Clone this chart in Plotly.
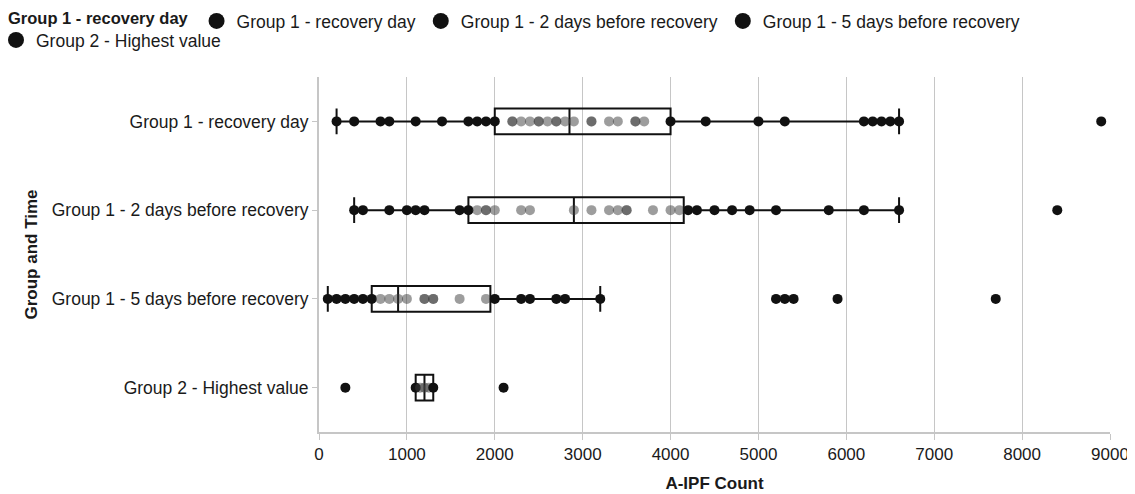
import plotly.graph_objects as go

categories = [
    "Group 1 - recovery day",
    "Group 1 - 2 days before recovery",
    "Group 1 - 5 days before recovery",
    "Group 2 - Highest value",
]

recovery_day = [200, 400, 700, 800, 1100, 1400, 1700, 1800, 1900, 2000, 2200, 2200, 2300, 2400,
                2500, 2500, 2600, 2700, 2700, 2800, 2900, 3100, 3100, 3300, 3400, 3600, 3600,
                3700, 4000, 4400, 5000, 5300, 6200, 6300, 6400, 6500, 6600, 8900]
two_days_before = [400, 500, 800, 1000, 1100, 1200, 1600, 1700, 1800, 1900, 1900, 2000, 2300, 2400,
                   2900, 3100, 3300, 3400, 3500, 3500, 3800, 4000, 4100, 4200, 4300, 4500, 4700,
                   4900, 5200, 5800, 6200, 6600, 8400]
five_days_before = [100, 200, 300, 400, 500, 600, 700, 800, 900, 1000, 1200, 1200, 1300, 1300, 1600,
                    1900, 2000, 2300, 2400, 2700, 2800, 3200, 5200, 5300, 5400, 5900, 7700]
group2_highest = [300, 1100, 1150, 1200, 1250, 1300, 2100]

series = [recovery_day, two_days_before, five_days_before, group2_highest]

# box statistics
q1 = [2000, 1700, 600, 1100]
median = [2850, 2900, 900, 1200]
q3 = [4000, 4150, 1950, 1300]
lower_fence = [200, 400, 100, 1100]
upper_fence = [6600, 6600, 3200, 1300]

x_ticks = [0, 1000, 2000, 3000, 4000, 5000, 6000, 7000, 8000, 9000]

FONT = "Liberation Sans"
TXT = "#1a1a1a"
DARK = "#111111"
INSIDE = "rgba(60,60,60,0.5)"
GRID = "#c6c6c6"

fig = go.Figure()

for i, (cat, vals) in enumerate(zip(categories, series)):
    colors = [INSIDE if q1[i] < v < q3[i] else DARK for v in vals]
    fig.add_trace(go.Scatter(
        x=vals, y=[cat] * len(vals), mode="markers",
        marker=dict(size=10, color=colors, line=dict(width=0)),
        showlegend=False, hoverinfo="x+y",
    ))

fig.add_trace(go.Box(
    y=categories, q1=q1, median=median, q3=q3,
    lowerfence=lower_fence, upperfence=upper_fence,
    orientation="h", boxpoints=False,
    fillcolor="rgba(0,0,0,0)", line=dict(color=DARK, width=2),
    whiskerwidth=1, width=0.29, showlegend=False,
))

# legend entries
for i, cat in enumerate(categories):
    fig.add_trace(go.Scatter(
        x=[None], y=[None], mode="markers", name=cat,
        marker=dict(size=16, color=DARK),
        legend="legend2" if i == 3 else "legend",
    ))

# page has an 8px body margin: figure is drawn from (8, 8)
W, H = 1127, 486
ML, MR, MT, MB = 311, 25, 69, 62
pw = W - ML - MR
ph = H - MT - MB

fig.update_layout(
    width=W, height=H,
    margin=dict(l=ML, r=MR, t=MT, b=MB, autoexpand=False),
    paper_bgcolor="white", plot_bgcolor="white",
    font=dict(family=FONT, size=17, color=TXT),
    legend=dict(
        orientation="h", x=(-2 - ML) / pw, xanchor="left",
        y=1 + (MT + 5) / ph, yanchor="top",
        title=dict(text="<b>Group 1 - recovery day</b>", side="left",
                   font=dict(family=FONT, size=16.5, color=TXT)),
        font=dict(family=FONT, size=17.5, color=TXT),
        itemwidth=30, tracegroupgap=0, bgcolor="rgba(0,0,0,0)",
    ),
    legend2=dict(
        orientation="h", x=(-12 - ML) / pw, xanchor="left",
        y=1 + (MT - 14) / ph, yanchor="top",
        font=dict(family=FONT, size=17.5, color=TXT),
        itemwidth=30, bgcolor="rgba(0,0,0,0)",
    ),
    xaxis=dict(
        range=[0, 9000], tickvals=x_ticks, ticktext=[str(t) for t in x_ticks],
        showgrid=True, gridcolor=GRID, gridwidth=1,
        showline=True, linecolor=GRID, linewidth=2,
        ticks="outside", ticklen=6, tickcolor=GRID,
        zeroline=False, automargin=False,
        tickfont=dict(family=FONT, size=17, color=TXT),
        title=dict(text="<b>A-IPF Count</b>", font=dict(family=FONT, size=17, color=TXT), standoff=14),
    ),
    yaxis=dict(
        type="category", categoryorder="array", categoryarray=categories,
        range=[3.5, -0.5], automargin=False,
        showgrid=False, showline=True, linecolor=GRID, linewidth=2,
        ticks="outside", ticklen=5, tickcolor=GRID,
        tickfont=dict(family=FONT, size=17.5, color=TXT),
        title=dict(text="<b>Group and Time</b>", font=dict(family=FONT, size=17, color=TXT), standoff=10),
    ),
)

fig.write_html("out.html")
